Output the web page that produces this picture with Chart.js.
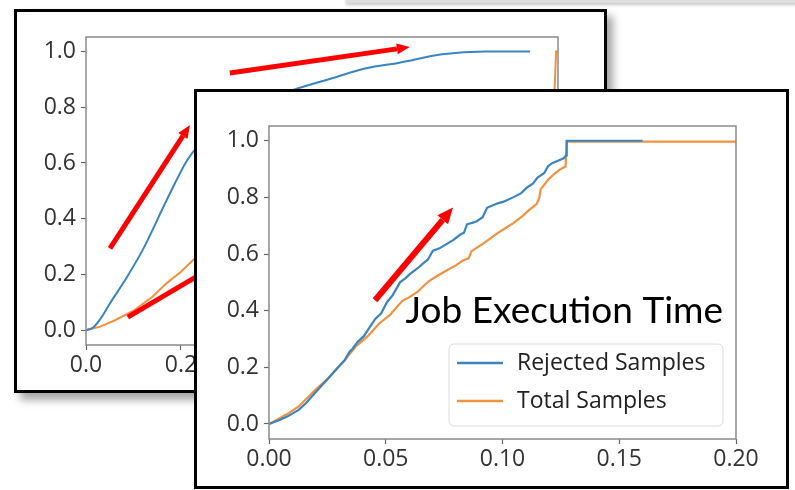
<!DOCTYPE html>
<html>
<head>
<meta charset="utf-8">
<script src="https://cdn.jsdelivr.net/npm/chart.js@4.4.1/dist/chart.umd.min.js"></script>
<style>
  html, body { margin: 0; padding: 0; background: #fff; }
  body { width: 795px; height: 490px; overflow: hidden; position: relative; }
  .panel { position: absolute; background: #fff; border: 3px solid #000; box-sizing: border-box; }
  #backPanel { left: 14px; top: 9px; width: 593px; height: 384px; box-shadow: 6px 7px 8px rgba(0,0,0,0.35); }
  #frontPanel { left: 194px; top: 89px; width: 595px; height: 400px; }
  #strip { position: absolute; left: 346px; top: -8px; width: 470px; height: 11px; background: #dedede; box-shadow: 0 2px 3px rgba(0,0,0,0.22); }
  canvas { display: block; }
</style>
</head>
<body>
<div id="strip"></div>
<div class="panel" id="backPanel"><canvas id="backChart" width="587" height="378"></canvas></div>
<div class="panel" id="frontPanel"><canvas id="frontChart" width="589" height="394"></canvas></div>
<script>
// ---- Overview CDF (wide time range) ----
const backRejectedX = [0, 0.015, 0.03, 0.05, 0.086, 0.12, 0.17, 0.213, 0.234, 0.28, 0.34, 0.436, 0.52, 0.59, 0.66, 0.75, 0.84, 0.935];
const backRejectedY = [0, 0.01, 0.04, 0.095, 0.19, 0.29, 0.467, 0.61, 0.657, 0.73, 0.8, 0.862, 0.905, 0.94, 0.96, 0.99, 1.0, 1.0];
const backTotalX = [0, 0.03, 0.06, 0.1, 0.14, 0.17, 0.2, 0.225, 0.26, 0.3, 0.35, 0.4, 0.5, 0.6, 0.7, 0.8, 0.9, 0.985, 0.99, 0.995];
const backTotalY = [0, 0.013, 0.035, 0.07, 0.12, 0.169, 0.21, 0.251, 0.3, 0.36, 0.43, 0.49, 0.6, 0.68, 0.73, 0.76, 0.78, 0.79, 1.0, 1.0];
const backTicksX = [0, 0.2, 0.4, 0.6, 0.8];
const backTickLabelsX = ['0.0', '0.2', '0.4', '0.6', '0.8'];
// trend arrows: [x0, y0, x1, y1] in data units
const backArrows = [
  [0.0505, 0.294, 0.219, 0.736],
  [0.303, 0.923, 0.682, 1.016],
  [0.088, 0.047, 0.30, 0.26]
];

// ---- Job execution time CDF (zoomed) ----
const rejectedX = [0, 0.004, 0.008, 0.0127, 0.016, 0.0192, 0.0225, 0.0258, 0.029, 0.0324, 0.0345, 0.0357, 0.038, 0.0406, 0.043, 0.0456, 0.048, 0.0505, 0.053, 0.0561, 0.0585, 0.0604, 0.0637, 0.066, 0.068, 0.0702, 0.073, 0.076, 0.079, 0.0818, 0.0835, 0.0848, 0.087, 0.089, 0.0915, 0.0934, 0.0976, 0.1005, 0.1045, 0.108, 0.1105, 0.113, 0.115, 0.1179, 0.1195, 0.1212, 0.124, 0.1262, 0.1272, 0.1275, 0.160];
const rejectedY = [0, 0.012, 0.027, 0.05, 0.075, 0.105, 0.135, 0.165, 0.195, 0.225, 0.255, 0.265, 0.29, 0.31, 0.34, 0.372, 0.39, 0.43, 0.455, 0.5, 0.515, 0.53, 0.55, 0.567, 0.58, 0.612, 0.62, 0.635, 0.65, 0.668, 0.675, 0.705, 0.71, 0.716, 0.73, 0.763, 0.778, 0.785, 0.80, 0.815, 0.835, 0.848, 0.87, 0.886, 0.91, 0.921, 0.93, 0.938, 0.948, 1.0, 1.0];
const totalX = [0, 0.004, 0.008, 0.0127, 0.0192, 0.0258, 0.0324, 0.0373, 0.0423, 0.0472, 0.0518, 0.0545, 0.0571, 0.06, 0.0637, 0.0665, 0.069, 0.0725, 0.076, 0.08, 0.083, 0.0855, 0.0867, 0.0917, 0.0976, 0.101, 0.1045, 0.108, 0.1113, 0.1146, 0.1158, 0.1163, 0.1196, 0.1225, 0.1245, 0.127, 0.1275, 0.200];
const totalY = [0, 0.018, 0.036, 0.062, 0.115, 0.165, 0.225, 0.275, 0.31, 0.355, 0.385, 0.41, 0.435, 0.447, 0.467, 0.49, 0.507, 0.525, 0.542, 0.56, 0.577, 0.585, 0.61, 0.637, 0.672, 0.69, 0.708, 0.73, 0.755, 0.776, 0.80, 0.828, 0.863, 0.885, 0.898, 0.909, 0.997, 0.997];
const frontTicksX = [0, 0.05, 0.10, 0.15, 0.20];
const frontTickLabelsX = ['0.00', '0.05', '0.10', '0.15', '0.20'];
const frontArrows = [
  [0.0454, 0.437, 0.0788, 0.764]
];
const captionText = 'Job Execution Time';

// ---- shared axis ticks ----
const yTicks = [0, 0.2, 0.4, 0.6, 0.8, 1.0];
const yTickLabels = ['0.0', '0.2', '0.4', '0.6', '0.8', '1.0'];

const BLUE = '#3a85c0';
const ORANGE = '#f2913f';
const SPINE = '#8a8a8a';

Chart.defaults.font.family = "'Open Sans', sans-serif";
Chart.defaults.font.size = 23;
Chart.defaults.color = '#333';
Chart.defaults.animation = false;

const zip = (xs, ys) => xs.map((x, i) => ({ x: x, y: ys[i] }));

function axes(xmax, xt, xl, yAxisW, xAxisH) {
  return {
    x: {
      type: 'linear', min: 0, max: xmax,
      afterBuildTicks: s => { s.ticks = xt.map(v => ({ value: v })); },
      afterFit: s => { s.height = xAxisH; },
      grid: { drawOnChartArea: false, drawTicks: true, tickLength: 5, tickColor: '#666', tickWidth: 1.2 },
      border: { display: false },
      ticks: { padding: 2, maxRotation: 0, autoSkip: false, callback: (v, i) => xl[i] }
    },
    y: {
      type: 'linear', min: -0.053, max: 1.052,
      afterBuildTicks: s => { s.ticks = yTicks.map(v => ({ value: v })); },
      afterFit: s => { s.width = yAxisW; },
      grid: { drawOnChartArea: false, drawTicks: true, tickLength: 5, tickColor: '#666', tickWidth: 1.2 },
      border: { display: false },
      ticks: { padding: 5, autoSkip: false, callback: (v, i) => yTickLabels[i] }
    }
  };
}

function drawArrow(ctx, x0, y0, x1, y1, w, headLen, headW) {
  const a = Math.atan2(y1 - y0, x1 - x0);
  const bx = x1 - headLen * Math.cos(a), by = y1 - headLen * Math.sin(a);
  ctx.save();
  ctx.strokeStyle = '#ff0000';
  ctx.fillStyle = '#ff0000';
  ctx.lineWidth = w;
  ctx.beginPath(); ctx.moveTo(x0, y0); ctx.lineTo(bx, by); ctx.stroke();
  ctx.beginPath();
  ctx.moveTo(x1, y1);
  ctx.lineTo(bx + headW / 2 * Math.sin(a), by - headW / 2 * Math.cos(a));
  ctx.lineTo(bx - headW / 2 * Math.sin(a), by + headW / 2 * Math.cos(a));
  ctx.closePath(); ctx.fill();
  ctx.restore();
}

// spines, arrows, in-plot legend and caption
const decor = {
  id: 'decor',
  afterDatasetsDraw(chart, args, opts) {
    const { ctx, chartArea: ca, scales } = chart;
    ctx.save();
    ctx.strokeStyle = SPINE;
    ctx.lineWidth = 1.5;
    ctx.strokeRect(ca.left, ca.top, ca.right - ca.left, ca.bottom - ca.top);
    ctx.restore();

    (opts.arrows || []).forEach(a => {
      drawArrow(ctx, scales.x.getPixelForValue(a[0]), scales.y.getPixelForValue(a[1]),
        scales.x.getPixelForValue(a[2]), scales.y.getPixelForValue(a[3]),
        opts.arrowWidth, opts.headLen, opts.headW);
    });

    if (opts.caption) {
      ctx.save();
      ctx.font = "37px Lato, sans-serif";
      ctx.fillStyle = '#000';
      ctx.textAlign = 'right';
      ctx.textBaseline = 'alphabetic';
      ctx.fillText(opts.caption, ca.right - 13, ca.top + 197);
      ctx.restore();
    }

    if (opts.legend) {
      const w = 274, h = 82;
      const x = ca.right - 13 - w, y = ca.bottom - 13 - h;
      ctx.save();
      ctx.beginPath();
      ctx.roundRect(x, y, w, h, 5);
      ctx.fillStyle = 'rgba(255,255,255,0.85)';
      ctx.fill();
      ctx.strokeStyle = '#dcdcdc';
      ctx.lineWidth = 1;
      ctx.stroke();
      ctx.font = "23px 'Open Sans', sans-serif";
      ctx.textBaseline = 'middle';
      ctx.fillStyle = '#222';
      chart.data.datasets.forEach((ds, i) => {
        const cy = y + 19 + i * 38;
        ctx.strokeStyle = ds.borderColor;
        ctx.lineWidth = 2.5;
        ctx.beginPath(); ctx.moveTo(x + 8, cy); ctx.lineTo(x + 54, cy); ctx.stroke();
        ctx.fillText(ds.label, x + 68, cy);
      });
      ctx.restore();
    }
  }
};

new Chart(document.getElementById('backChart'), {
  type: 'line',
  data: {
    datasets: [
      { label: 'Rejected Samples', data: zip(backRejectedX, backRejectedY), borderColor: BLUE, borderWidth: 2, pointRadius: 0, cubicInterpolationMode: 'monotone' },
      { label: 'Total Samples', data: zip(backTotalX, backTotalY), borderColor: ORANGE, borderWidth: 2, pointRadius: 0, tension: 0 }
    ]
  },
  options: {
    responsive: false,
    devicePixelRatio: 1,
    layout: { padding: { top: 25, right: 46, left: 0, bottom: 0 } },
    scales: axes(0.994, backTicksX, backTickLabelsX, 69, 45),
    plugins: {
      legend: { display: false },
      tooltip: { enabled: false },
      decor: { arrows: backArrows, arrowWidth: 5, headLen: 13, headW: 11 }
    }
  },
  plugins: [decor]
});

new Chart(document.getElementById('frontChart'), {
  type: 'line',
  data: {
    datasets: [
      { label: 'Rejected Samples', data: zip(rejectedX, rejectedY), borderColor: BLUE, borderWidth: 2.2, pointRadius: 0, tension: 0 },
      { label: 'Total Samples', data: zip(totalX, totalY), borderColor: ORANGE, borderWidth: 2.2, pointRadius: 0, tension: 0 }
    ]
  },
  options: {
    responsive: false,
    devicePixelRatio: 1,
    layout: { padding: { top: 34, right: 50, left: 0, bottom: 0 } },
    scales: axes(0.2, frontTicksX, frontTickLabelsX, 72, 47),
    plugins: {
      legend: { display: false },
      tooltip: { enabled: false },
      decor: { arrows: frontArrows, arrowWidth: 6, headLen: 16, headW: 14, caption: captionText, legend: true }
    }
  },
  plugins: [decor]
});
</script>
</body>
</html>
